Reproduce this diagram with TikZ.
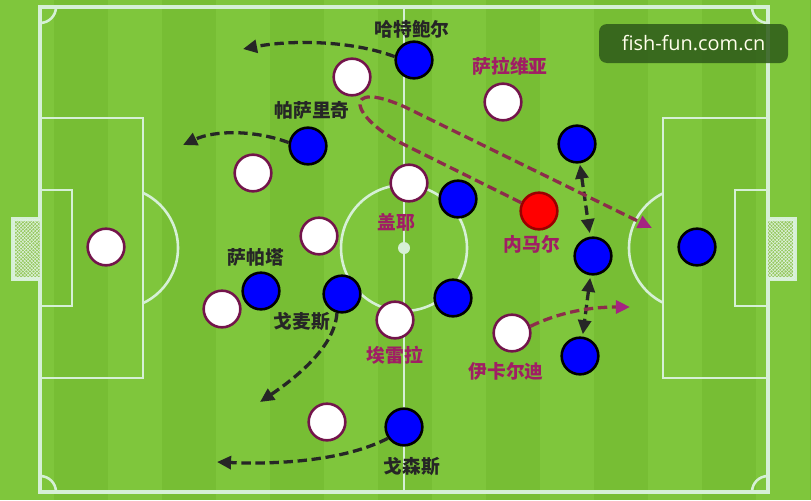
\documentclass[tikz,border=0pt]{standalone}
\usepackage{fontspec}
\usepackage{tikz}
\usetikzlibrary{arrows.meta,patterns}
\newfontfamily\cjk{Noto Sans CJK SC}
\newfontfamily\wmfont{Open Sans}

\definecolor{grassA}{RGB}{119,190,52}
\definecolor{grassB}{RGB}{127,198,60}
\definecolor{chalk}{RGB}{214,240,214}
\definecolor{rim}{RGB}{115,20,75}
\definecolor{runline}{RGB}{140,45,75}
\definecolor{runtip}{RGB}{165,35,130}
\definecolor{namepurple}{RGB}{160,30,100}
\definecolor{wmgreen}{RGB}{45,90,25}
\definecolor{netgreen}{RGB}{150,200,95}

\tikzset{
  whiteplayer/.style={circle,draw=rim,fill=white,line width=2.2pt,minimum size=1.1cm,inner sep=0pt},
  blueplayer/.style={circle,draw=black,fill=blue,line width=2.2pt,minimum size=1.1cm,inner sep=0pt},
  redplayer/.style={circle,draw=red!60!black,fill=red,line width=2.2pt,minimum size=1.1cm,inner sep=0pt},
  chalkline/.style={draw=chalk,line width=2.2pt},
  blackname/.style={font=\cjk\bfseries\fontsize{16}{18}\selectfont,text=black!85},
  purplename/.style={font=\cjk\bfseries\fontsize{16}{18}\selectfont,text=namepurple},
  blackrun/.style={draw=black!85,line width=2.8pt,dash pattern=on 8pt off 4pt,-{Triangle[length=12pt,width=11pt]}},
  swaprun/.style={blackrun,{Triangle[length=12pt,width=11pt]}-{Triangle[length=12pt,width=11pt]}},
  maroonrun/.style={draw=runline,line width=2.8pt,dash pattern=on 8pt off 4pt,-{Triangle[length=12pt,width=11pt,color=runtip]}},
  wmbox/.style={rounded corners=0.24cm,fill=wmgreen,fill opacity=0.85,text opacity=1,text=white!92!yellow,minimum width=5.67cm,minimum height=1.17cm,font=\wmfont\fontsize{17}{20}\selectfont}
}

\begin{document}
\begin{tikzpicture}[x=0.03cm,y=-0.03cm]
\useasboundingbox (0,0) rectangle (811,500);
% grass
\fill[grassA] (0,0) rectangle (811,500);
\foreach \s in {0,2,...,14} \fill[grassB] (\s*54,0) rectangle (\s*54+54,500);

% pitch markings
\draw[chalkline,line width=2.6pt] (40,7) rectangle (768,492);
\draw[chalkline] (404,7) -- (404,492);
\draw[chalkline] (404,248) circle[radius=1.89cm];
\fill[chalk] (404,248) circle[radius=0.18cm];
\draw[chalkline] (40,118) rectangle (143,378);
\draw[chalkline] (40,190) rectangle (72,306);
\draw[chalkline] (768,118) rectangle (663,378);
\draw[chalkline] (768,190) rectangle (735,306);
\begin{scope}
  \clip (143,0) rectangle (663,500);
  \draw[chalkline] (117,248) circle[radius=1.83cm];
  \draw[chalkline] (690,248) circle[radius=1.83cm];
\end{scope}
\begin{scope}
  \clip (40,7) rectangle (768,492);
  \foreach \c in {(40,7),(768,7),(40,492),(768,492)} \draw[chalkline] \c circle[radius=0.48cm];
\end{scope}
% goals
\draw[draw=chalk,line width=3pt,fill=netgreen,postaction={pattern=crosshatch,pattern color=chalk!70}] (40,219) -- (13,219) -- (13,279) -- (40,279);
\draw[draw=chalk,line width=3pt,fill=netgreen,postaction={pattern=crosshatch,pattern color=chalk!70}] (768,219) -- (795,219) -- (795,279) -- (768,279);

% white side
\node[whiteplayer] (wgk) at (106,247) {};
\node[whiteplayer] (w1) at (253,173) {};
\node[whiteplayer] (w2) at (352,77) {};
\node[whiteplayer] (w3) at (222,309) {};
\node[whiteplayer] (w4) at (319,236) {};
\node[whiteplayer] (w5) at (327,422) {};
\node[whiteplayer] (gaye) at (409,183) {};
\node[whiteplayer] (herrera) at (395,320) {};
\node[whiteplayer] (saravia) at (503,102) {};
\node[whiteplayer] (icardi) at (512,333) {};
\node[redplayer] (neymar) at (539,211) {};

% blue side
\node[blueplayer] (hart) at (414,60) {};
\node[blueplayer] (pasalic) at (308,146) {};
\node[blueplayer] (zapata) at (261,291) {};
\node[blueplayer] (gomez) at (342,294) {};
\node[blueplayer] (goossens) at (404,427) {};
\node[blueplayer] (b1) at (458,199) {};
\node[blueplayer] (b2) at (453,298) {};
\node[blueplayer] (cb1) at (577,144) {};
\node[blueplayer] (cb2) at (593,256) {};
\node[blueplayer] (cb3) at (580,356) {};
\node[blueplayer] (bgk) at (697,247) {};

% names
\node[blackname] (nHart) at (412,29) {哈特鲍尔};
\node[blackname] (nPasalic) at (312,110) {帕萨里奇};
\node[blackname] (nZapata) at (256,257) {萨帕塔};
\node[blackname] (nGomez) at (302,322) {戈麦斯};
\node[blackname] (nGoossens) at (412,467) {戈森斯};
\node[purplename] (nSaravia) at (510,66) {萨拉维亚};
\node[purplename] (nGaye) at (396,222) {盖耶};
\node[purplename] (nNeymar) at (532,244) {内马尔};
\node[purplename] (nHerrera) at (395,355) {埃雷拉};
\node[purplename] (nIcardi) at (506,371) {伊卡尔迪};

% runs
\coordinate (hartTo) at (243,49);
\coordinate (pasalicTo) at (183,145);
\coordinate (gomezTo) at (260,402);
\coordinate (goossensTo) at (217,462);
\coordinate (icardiTo) at (630,307);
\coordinate (neymarTo) at (652,228);
\draw[blackrun] (hart.170) .. controls (350,40) and (290,40) .. (hartTo);
\draw[blackrun] (pasalic.170) .. controls (255,130) and (215,130) .. (pasalicTo);
\draw[blackrun] (gomez.255) .. controls (335,345) and (300,375) .. (gomezTo);
\draw[blackrun] (goossens.215) .. controls (350,458) and (290,465) .. (goossensTo);
\draw[swaprun,shorten <=1pt,shorten >=3pt] (cb1) -- (cb2);
\draw[swaprun,shorten <=2pt,shorten >=2pt] (cb2) -- (cb3);
\draw[maroonrun] (icardi.20) .. controls (560,312) and (590,307) .. (icardiTo);
\draw[maroonrun] (neymar.155) -- (405,145) .. controls (350,118) and (340,78) .. (405,107) -- (neymarTo);

% watermark
\node[wmbox] (wm) at (693.5,43.5) {fish-fun.com.cn};
\end{tikzpicture}
\end{document}
